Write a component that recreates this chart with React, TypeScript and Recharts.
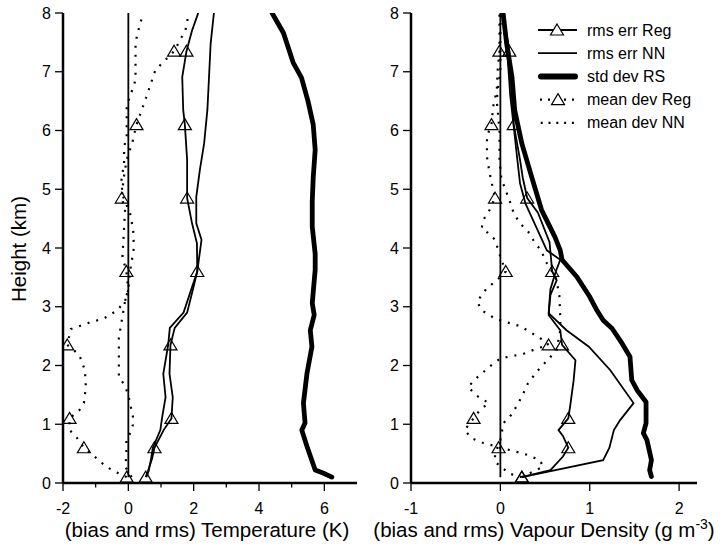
import React from 'react';
import { LineChart, Line, XAxis, YAxis, Legend } from 'recharts';

const FONT = '"Liberation Sans", Arial, Helvetica, sans-serif';

// ---------- shared ----------
const markerHeights = [0.1, 0.6, 1.1, 2.35, 3.6, 4.85, 6.1, 7.35];
const heightTicks = [0, 1, 2, 3, 4, 5, 6, 7, 8];
const zeroLineH = [0.1, 8];
const zeroLineX = [0, 0];

// ---------- left panel: temperature ----------
const tempTicks = [-2, -1, 0, 1, 2, 3, 4, 5, 6];
const tempLabelled = [-2, 0, 2, 4, 6];

const tStdH = [0.1, 0.17, 0.22, 0.62, 0.9, 1.02, 1.36, 1.87, 2.32, 2.6, 2.86, 3.06, 3.63, 3.9, 4.36, 4.8, 5.2, 5.67, 6.1, 6.5, 6.9, 7.15, 7.66, 8.0];
const tStdX = [6.23, 5.96, 5.72, 5.47, 5.31, 5.41, 5.36, 5.47, 5.62, 5.57, 5.69, 5.63, 5.72, 5.72, 5.63, 5.63, 5.66, 5.72, 5.66, 5.5, 5.3, 5.05, 4.75, 4.4];

const tRmsRegH = [0.1, 0.2, 0.42, 0.6, 0.9, 1.1, 1.46, 1.86, 2.35, 2.64, 2.9, 3.3, 3.6, 4.08, 4.42, 4.85, 5.5, 6.1, 6.35, 6.91, 7.35, 7.7, 8.0];
const tRmsRegX = [0.53, 0.6, 0.73, 0.8, 1.08, 1.32, 1.36, 1.26, 1.29, 1.42, 1.8, 1.98, 2.11, 2.1, 1.95, 1.8, 1.8, 1.73, 1.68, 1.65, 1.78, 1.95, 2.14];

const tRmsNNH = [0.1, 0.2, 0.42, 0.6, 0.9, 1.1, 1.46, 1.86, 2.35, 2.64, 2.9, 3.3, 3.6, 4.14, 4.42, 4.87, 5.33, 5.78, 6.35, 6.91, 7.48, 8.0];
const tRmsNNX = [0.55, 0.62, 0.7, 0.75, 0.98, 1.03, 1.14, 1.07, 1.22, 1.27, 1.69, 1.93, 2.11, 2.24, 2.08, 2.08, 2.19, 2.32, 2.42, 2.47, 2.52, 2.62];

const tMeanRegH = [0.1, 0.2, 0.28, 0.48, 0.6, 0.79, 0.9, 1.1, 1.24, 1.36, 1.64, 1.92, 2.18, 2.35, 2.62, 2.72, 2.8, 2.94, 3.1, 3.29, 3.6, 3.85, 4.14, 4.65, 4.85, 5.16, 5.5, 5.79, 6.1, 6.52, 7.03, 7.35, 7.71, 8.0];
const tMeanRegX = [-0.05, -0.43, -0.68, -1.1, -1.36, -1.6, -1.8, -1.8, -1.5, -1.36, -1.3, -1.33, -1.5, -1.87, -1.76, -1.25, -0.75, -0.34, -0.1, 0.0, -0.06, -0.18, -0.15, -0.1, -0.2, -0.15, -0.05, 0.12, 0.25, 0.52, 0.83, 1.4, 1.75, 1.85];

const tMeanNNH = [0.1, 0.28, 0.45, 0.6, 0.73, 0.85, 0.99, 1.13, 1.52, 1.69, 1.8, 2.1, 2.47, 2.77, 3.1, 3.3, 3.6, 4.0, 4.3, 4.6, 4.9, 5.16, 5.44, 5.72, 5.9, 6.4, 6.57, 6.72, 6.86, 7.5, 7.71, 7.85, 8.0];
const tMeanNNX = [0.1, -0.1, -0.06, -0.06, -0.06, 0.06, 0.14, 0.14, -0.01, -0.14, -0.29, -0.29, -0.29, -0.2, -0.1, 0.0, 0.05, 0.17, 0.15, 0.05, -0.18, -0.21, -0.13, -0.13, -0.05, -0.05, 0.04, 0.14, 0.22, 0.22, 0.31, 0.38, 0.45];

// ---------- right panel: vapour density ----------
const vapTicks = [-1, 0, 1, 2];
const vapLabelled = [-1, 0, 1, 2];

const vStdH = [0.11, 0.22, 0.39, 0.73, 0.85, 1.02, 1.38, 1.58, 1.75, 2.15, 2.38, 2.63, 2.77, 2.94, 3.17, 3.51, 3.8, 3.96, 4.19, 4.65, 5.21, 5.78, 6.35, 6.91, 7.48, 8.0];
const vStdX = [1.69, 1.67, 1.69, 1.64, 1.6, 1.63, 1.63, 1.53, 1.47, 1.45, 1.36, 1.25, 1.15, 1.08, 1.0, 0.855, 0.69, 0.67, 0.61, 0.46, 0.35, 0.24, 0.16, 0.13, 0.07, 0.03];

const vRmsRegH = [0.1, 0.22, 0.45, 0.6, 0.8, 0.9, 1.1, 1.3, 1.75, 2.09, 2.35, 2.6, 2.86, 3.2, 3.45, 3.6, 4.1, 4.6, 4.85, 5.2, 5.5, 6.1, 6.6, 7.35, 8.0];
const vRmsRegX = [0.24, 0.56, 0.7, 0.76, 0.7, 0.65, 0.76, 0.78, 0.82, 0.84, 0.69, 0.67, 0.54, 0.56, 0.63, 0.58, 0.55, 0.42, 0.3, 0.25, 0.22, 0.15, 0.13, 0.1, 0.03];

const vRmsNNH = [0.1, 0.39, 0.6, 0.9, 1.07, 1.36, 1.92, 2.32, 2.6, 2.89, 3.3, 3.6, 3.8, 3.96, 4.36, 4.76, 5.1, 5.5, 6.06, 6.6, 7.5, 8.0];
const vRmsNNX = [0.24, 1.15, 1.22, 1.27, 1.34, 1.49, 1.23, 0.99, 0.74, 0.54, 0.56, 0.62, 0.67, 0.52, 0.4, 0.28, 0.22, 0.19, 0.15, 0.11, 0.07, 0.02];

const vMeanRegH = [0.1, 0.28, 0.39, 0.48, 0.56, 0.6, 0.63, 0.68, 0.76, 0.9, 1.1, 1.24, 1.36, 1.5, 1.64, 1.81, 1.98, 2.12, 2.16, 2.2, 2.29, 2.35, 2.46, 2.6, 2.67, 2.79, 2.94, 3.09, 3.3, 3.48, 3.6, 3.85, 4.14, 4.25, 4.33, 4.48, 4.65, 4.85, 4.99, 5.27, 5.55, 5.9, 6.1, 6.41, 6.69, 7.03, 7.35, 8.0];
const vMeanRegX = [0.24, 0.48, 0.44, 0.3, 0.11, -0.02, -0.06, -0.19, -0.32, -0.4, -0.3, -0.23, -0.13, -0.28, -0.36, -0.25, -0.12, 0.0, 0.13, 0.26, 0.41, 0.54, 0.45, 0.3, 0.22, -0.05, -0.21, -0.26, -0.16, -0.02, 0.06, 0.0, -0.06, -0.13, -0.21, -0.19, -0.12, -0.06, -0.08, -0.12, -0.15, -0.15, -0.1, -0.08, -0.04, -0.03, -0.01, -0.01];

const vMeanNNH = [0.1, 0.16, 0.36, 0.5, 0.73, 1.02, 1.17, 1.47, 1.7, 1.9, 2.26, 2.6, 2.83, 3.2, 3.5, 3.74, 3.97, 4.08, 4.28, 4.42, 4.59, 4.82, 5.1, 5.2, 5.5, 6.0, 6.5, 6.7, 7.0, 8.0];
const vMeanNNX = [0.24, 0.1, -0.06, -0.06, 0.0, 0.035, 0.13, 0.24, 0.31, 0.41, 0.63, 0.67, 0.67, 0.66, 0.62, 0.52, 0.45, 0.39, 0.31, 0.22, 0.15, 0.1, 0.03, 0.01, -0.01, -0.01, -0.04, -0.03, 0.0, 0.0];

const legendNames = ['rms err Reg', 'rms err NN', 'std dev RS', 'mean dev Reg', 'mean dev NN'];

// ---------- helpers ----------
const toPts = (h: number[], x: number[]) => h.map((hh, i) => ({ h: hh, x: x[i] }));
const isMarker = (h: number) => markerHeights.some((m) => Math.abs(m - h) < 1e-6);

const triPath = (cx: number, cy: number) =>
  `M${cx},${cy - 6} L${cx + 6.5},${cy + 5} L${cx - 6.5},${cy + 5} Z`;

const TriDot = (props: any) => {
  const { cx, cy, payload, index } = props;
  if (cx == null || cy == null || !payload || !isMarker(payload.h)) return <g key={`n${index}`} />;
  return <path key={`t${index}`} d={triPath(cx, cy)} fill="none" stroke="#000" strokeWidth={1.2} strokeDasharray="none" />;
};

const makeXTick = (labelled: number[]) => (props: any) => {
  const { x, y, payload } = props;
  const major = labelled.includes(payload.value);
  return (
    <g>
      <line x1={x} x2={x} y1={y} y2={y + (major ? 8 : 4.5)} stroke="#000" strokeWidth={1.3} />
      {major && (
        <text x={x} y={y + 25} dy="0.35em" textAnchor="middle" fontSize={16} fontFamily={FONT} fill="#000">
          {payload.value}
        </text>
      )}
    </g>
  );
};

const YTick = (props: any) => {
  const { x, y, payload } = props;
  return (
    <g>
      <line x1={x - 8} x2={x} y1={y} y2={y} stroke="#000" strokeWidth={1.3} />
      <text x={x - 12} y={y} dy="0.35em" textAnchor="end" fontSize={16} fontFamily={FONT} fill="#000">
        {payload.value}
      </text>
    </g>
  );
};

const SOLID = { stroke: '#000', strokeWidth: 1.8 };
const DOTTED = { stroke: '#000', strokeWidth: 2.2, strokeDasharray: '2 7' };
const FRAME = { stroke: '#000', strokeWidth: 2.5 };

const LegendBox = () => {
  const rows = legendNames.map((n, i) => 15 + 23.2 * i);
  return (
    <svg width={170} height={125} style={{ display: 'block' }}>
      <line x1={8} x2={47} y1={rows[0]} y2={rows[0]} stroke="#000" strokeWidth={1.8} />
      <path d={triPath(27, rows[0])} fill="#fff" stroke="#000" strokeWidth={1.2} />
      <line x1={8} x2={47} y1={rows[1]} y2={rows[1]} stroke="#000" strokeWidth={1.8} />
      <line x1={11} x2={45} y1={rows[2]} y2={rows[2]} stroke="#000" strokeWidth={6} strokeLinecap="round" />
      <line x1={10} x2={47} y1={rows[3]} y2={rows[3]} stroke="#000" strokeWidth={2.2} strokeDasharray="2 6" />
      <path d={triPath(28, rows[3])} fill="#fff" stroke="#000" strokeWidth={1.2} />
      <line x1={10.7} x2={47} y1={rows[4]} y2={rows[4]} stroke="#000" strokeWidth={2.2} strokeDasharray="2 5.8" />
      {legendNames.map((n, i) => (
        <text key={n} x={57} y={rows[i]} dy="0.35em" fontSize={16} fontFamily={FONT} fill="#000">
          {n}
        </text>
      ))}
    </svg>
  );
};

const HeightLabel = (props: any) => {
  const cx = 25.5;
  const cy = 249;
  return (
    <text x={cx} y={cy} textAnchor="middle" transform={`rotate(-90, ${cx}, ${cy})`} fontSize={20.5} fontFamily={FONT} fill="#000">
      Height (km)
    </text>
  );
};

const TempTitle = (props: any) => {
  const vb = props.viewBox || { x: 63, y: 483, width: 294 };
  return (
    <text x={vb.x + vb.width / 2 - 3} y={vb.y + 54} textAnchor="middle" fontSize={20.5} fontFamily={FONT} fill="#000">
      (bias and rms) Temperature (K)
    </text>
  );
};

const VapTitle = (props: any) => {
  const vb = props.viewBox || { x: 51, y: 483, width: 286 };
  return (
    <text x={vb.x + vb.width / 2 - 10} y={vb.y + 54} textAnchor="middle" fontSize={20.5} fontFamily={FONT} fill="#000">
      <tspan>(bias and rms) Vapour Density (g m</tspan>
      <tspan dy={-8} fontSize={14}>-3</tspan>
      <tspan dy={8}>)</tspan>
    </text>
  );
};

const Panel = (p: {
  width: number;
  right: number;
  yWidth: number;
  xDomain: [number, number];
  xTicks: number[];
  xLabelled: number[];
  xTitle: any;
  yTitle?: any;
  zero: any[];
  meanNN: any[];
  meanReg: any[];
  rmsNN: any[];
  rmsReg: any[];
  std: any[];
  legend?: boolean;
}) => (
  <LineChart layout="vertical" width={p.width} height={547} margin={{ top: 13, right: p.right, left: 0, bottom: 0 }}>
    <XAxis
      type="number"
      dataKey="x"
      domain={p.xDomain}
      allowDataOverflow
      ticks={p.xTicks}
      interval={0}
      tickSize={0}
      tickMargin={0}
      axisLine={FRAME}
      tickLine={false}
      tick={makeXTick(p.xLabelled)}
      height={64}
      label={p.xTitle}
    />
    <XAxis
      xAxisId="top"
      orientation="top"
      type="number"
      domain={p.xDomain}
      allowDataOverflow
      height={0}
      tick={false}
      tickLine={false}
      axisLine={FRAME}
    />
    <YAxis
      type="number"
      dataKey="h"
      domain={[0, 8]}
      reversed
      allowDataOverflow
      ticks={heightTicks}
      interval={0}
      tickSize={0}
      tickMargin={0}
      axisLine={FRAME}
      tickLine={false}
      tick={YTick}
      width={p.yWidth}
      label={p.yTitle}
    />
    <YAxis
      yAxisId="right"
      orientation="right"
      type="number"
      domain={[0, 8]}
      reversed
      allowDataOverflow
      width={0}
      tick={false}
      tickLine={false}
      axisLine={FRAME}
    />
    <Line data={p.zero} dataKey="x" type="linear" stroke="#000" strokeWidth={1.8} dot={false} activeDot={false} isAnimationActive={false} />
    <Line data={p.meanNN} dataKey="x" type="linear" {...DOTTED} dot={false} activeDot={false} isAnimationActive={false} />
    <Line data={p.meanReg} dataKey="x" type="linear" {...DOTTED} dot={TriDot} activeDot={false} isAnimationActive={false} />
    <Line data={p.rmsNN} dataKey="x" type="linear" {...SOLID} dot={false} activeDot={false} isAnimationActive={false} />
    <Line data={p.rmsReg} dataKey="x" type="linear" {...SOLID} dot={TriDot} activeDot={false} isAnimationActive={false} />
    <Line data={p.std} dataKey="x" type="linear" stroke="#000" strokeWidth={4.8} strokeLinejoin="round" strokeLinecap="round" dot={false} activeDot={false} isAnimationActive={false} />
    {p.legend && (
      <Legend
        layout="vertical"
        align="center"
        verticalAlign="middle"
        content={LegendBox}
        wrapperStyle={{ left: 170, top: 15, width: 170, height: 125, bottom: 'auto', right: 'auto' }}
      />
    )}
  </LineChart>
);

export default function App() {
  return (
    <div style={{ position: 'absolute', left: 0, top: 0, width: 728, height: 547, background: '#fff' }}>
      <div style={{ position: 'absolute', left: 0, top: 0 }}>
        <Panel
          width={370}
          right={13}
          yWidth={63}
          xDomain={[-2, 7]}
          xTicks={tempTicks}
          xLabelled={tempLabelled}
          xTitle={TempTitle}
          yTitle={HeightLabel}
          zero={toPts(zeroLineH, zeroLineX)}
          meanNN={toPts(tMeanNNH, tMeanNNX)}
          meanReg={toPts(tMeanRegH, tMeanRegX)}
          rmsNN={toPts(tRmsNNH, tRmsNNX)}
          rmsReg={toPts(tRmsRegH, tRmsRegX)}
          std={toPts(tStdH, tStdX)}
        />
      </div>
      <div style={{ position: 'absolute', left: 360, top: 0 }}>
        <Panel
          width={368}
          right={31}
          yWidth={51}
          xDomain={[-1, 2.2]}
          xTicks={vapTicks}
          xLabelled={vapLabelled}
          xTitle={VapTitle}
          zero={toPts(zeroLineH, zeroLineX)}
          meanNN={toPts(vMeanNNH, vMeanNNX)}
          meanReg={toPts(vMeanRegH, vMeanRegX)}
          rmsNN={toPts(vRmsNNH, vRmsNNX)}
          rmsReg={toPts(vRmsRegH, vRmsRegX)}
          std={toPts(vStdH, vStdX)}
          legend
        />
      </div>
    </div>
  );
}
